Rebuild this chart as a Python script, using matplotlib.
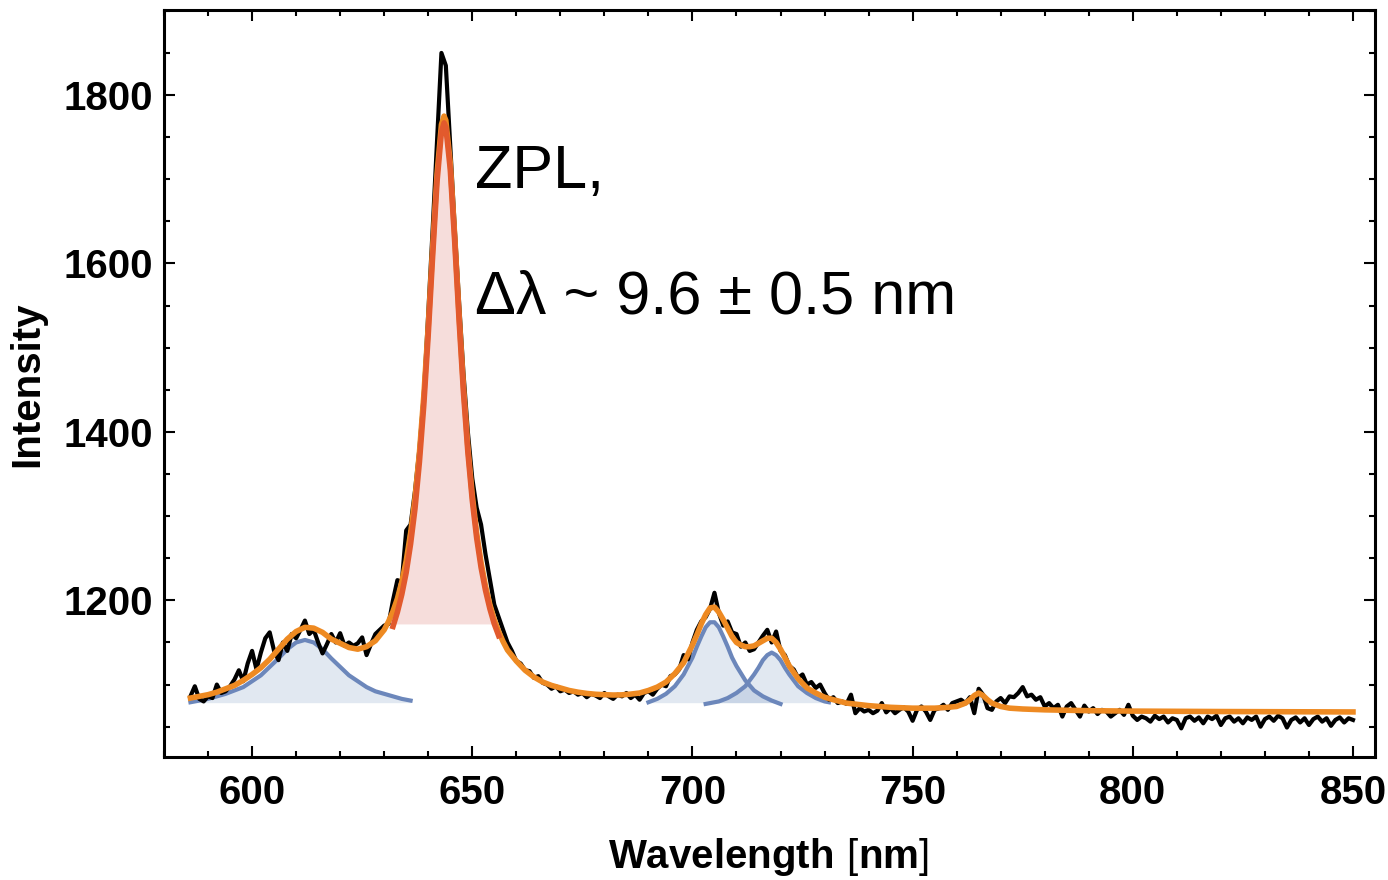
import numpy as np
import matplotlib
matplotlib.use("Agg")
import matplotlib.pyplot as plt
from matplotlib.ticker import MultipleLocator

plt.rcParams['font.family'] = ['Liberation Sans', 'DejaVu Sans']
plt.rcParams['mathtext.fontset'] = 'custom'
plt.rcParams['mathtext.rm'] = 'Liberation Sans'
plt.rcParams['mathtext.bf'] = 'Liberation Sans:bold'

# ---------------- data ----------------
# measured spectrum, 1 nm steps from 586 nm to 850 nm
spectrum = [
    1086, 1098, 1083, 1080, 1086, 1084, 1100, 1090, 1092, 1098,   # 586-595
    1106, 1117, 1104, 1125, 1140, 1118, 1138, 1155, 1162, 1140,   # 596-605
    1129, 1150, 1140, 1160, 1155, 1165, 1176, 1160, 1165, 1150,   # 606-615
    1137, 1148, 1160, 1150, 1161, 1146, 1150, 1146, 1149, 1156,   # 616-625
    1135, 1148, 1160, 1165, 1170, 1172, 1200, 1224, 1222, 1283,   # 626-635
    1290, 1330, 1380, 1445, 1540, 1640, 1745, 1850, 1835, 1740,   # 636-645
    1645, 1555, 1470, 1400, 1345, 1310, 1290, 1255, 1225, 1195,   # 646-655
    1180, 1165, 1150, 1140, 1128, 1125, 1117, 1116, 1108, 1110,   # 656-665
    1102, 1100, 1095, 1098, 1092, 1094, 1090, 1092, 1088, 1090,   # 666-675
    1085, 1089, 1087, 1084, 1090, 1086, 1083, 1088, 1086, 1090,   # 676-685
    1084, 1088, 1082, 1090, 1092, 1088, 1095, 1100, 1098, 1110,   # 686-695
    1112, 1118, 1135, 1130, 1150, 1165, 1175, 1180, 1190, 1209,   # 696-705
    1185, 1170, 1175, 1162, 1160, 1145, 1150, 1140, 1142, 1150,   # 706-715
    1158, 1165, 1150, 1163, 1140, 1135, 1122, 1118, 1108, 1112,   # 716-725
    1100, 1103, 1096, 1100, 1090, 1082, 1085, 1078, 1080, 1077,   # 726-735
    1088, 1066, 1072, 1068, 1070, 1066, 1069, 1078, 1067, 1072,   # 736-745
    1066, 1070, 1073, 1068, 1057, 1070, 1074, 1068, 1058, 1070,   # 746-755
    1072, 1076, 1070, 1078, 1080, 1082, 1078, 1085, 1066, 1095,   # 756-765
    1088, 1072, 1070, 1080, 1084, 1078, 1086, 1085, 1090, 1097,   # 766-775
    1086, 1088, 1082, 1085, 1074, 1078, 1072, 1076, 1062, 1074,   # 776-785
    1078, 1070, 1062, 1075, 1068, 1072, 1065, 1070, 1068, 1062,   # 786-795
    1066, 1070, 1064, 1076, 1063, 1058, 1062, 1060, 1056, 1063,   # 796-805
    1059, 1062, 1055, 1060, 1058, 1048, 1060, 1062, 1057, 1061,   # 806-815
    1054, 1062, 1059, 1063, 1052, 1060, 1062, 1056, 1060, 1054,   # 816-825
    1061, 1058, 1062, 1050, 1059, 1062, 1057, 1063, 1060, 1049,   # 826-835
    1058, 1061, 1055, 1060, 1052, 1059, 1062, 1056, 1060, 1051,   # 836-845
    1058, 1061, 1055, 1060, 1058,                                 # 846-850
]
spectrum_wl = np.arange(586, 586 + len(spectrum))

# total fit (orange)
fit_wl = [586, 588, 590, 592, 594, 596, 598, 600, 602, 604, 606, 608, 610, 612,
          614, 616, 618, 620, 622, 624, 626, 628, 630, 631, 632, 633, 634, 635,
          636, 637, 638, 639, 640, 641, 642, 643, 643.6, 644, 645, 646, 647,
          648, 649, 650, 651, 652, 653, 654, 655, 656, 657, 658, 660, 662, 664,
          666, 668, 670, 672, 674, 676, 678, 680, 682, 684, 686, 688, 690, 692,
          694, 696, 698, 700, 701, 702, 703, 704, 705, 706, 707, 708, 709, 710,
          711, 712, 713, 714, 715, 716, 717, 718, 719, 720, 721, 722, 724, 726,
          728, 730, 732, 735, 740, 745, 750, 755, 758, 760, 762, 763, 764, 765,
          766, 767, 768, 770, 772, 775, 780, 790, 800, 820, 850]
fit_int = [1084, 1086, 1088, 1091, 1095, 1099, 1105, 1112, 1120, 1130, 1142,
           1154, 1163, 1168, 1167, 1162, 1154, 1149, 1144, 1142, 1145, 1152,
           1165, 1175, 1187, 1202, 1222, 1247, 1280, 1321, 1375, 1443, 1525,
           1618, 1706, 1765, 1775, 1770, 1720, 1634, 1540, 1454, 1382, 1325,
           1280, 1245, 1217, 1195, 1177, 1163, 1151, 1141, 1128, 1117, 1109,
           1103, 1099, 1096, 1093, 1091, 1089.5, 1088.5, 1088, 1087.6, 1087.8,
           1088.7, 1090, 1093, 1097, 1103, 1113, 1126, 1147, 1159, 1172, 1183,
           1191, 1192, 1186, 1177, 1167, 1157, 1150, 1147, 1145, 1145, 1146,
           1149, 1152, 1155, 1155, 1150, 1142, 1132, 1122, 1107, 1096, 1090,
           1085, 1082, 1078, 1075, 1073, 1072, 1072, 1073, 1074, 1078, 1082,
           1087, 1090, 1087, 1082, 1078, 1074, 1072, 1071, 1070, 1069, 1068.5,
           1068, 1067.5]

# zero-phonon-line component (red)
zpl_wl = [632, 633, 634, 635, 636, 637, 638, 639, 640, 641, 642, 643, 643.6,
          644, 645, 646, 647, 648, 649, 650, 651, 652, 653, 654, 655, 656]
zpl_int = [1169, 1186, 1207, 1233, 1267, 1309, 1364, 1432, 1515, 1608, 1697,
           1756, 1767, 1762, 1712, 1627, 1533, 1447, 1376, 1319, 1274, 1239,
           1212, 1190, 1172, 1158]
zpl_base = 1172

# phonon side-band components (blue)
sb1_wl = [586, 590, 594, 598, 600, 602, 604, 606, 608, 610, 612, 614, 616, 618,
          620, 622, 624, 626, 628, 630, 632, 634, 636]
sb1_int = [1079, 1083, 1089, 1097, 1104, 1111, 1121, 1131, 1142, 1150, 1153,
           1150, 1142, 1131, 1121, 1111, 1104, 1097, 1092, 1089, 1086, 1083, 1081]
sb2_wl = [690, 692, 694, 696, 698, 700, 701, 702, 703, 704, 705, 706, 707, 708,
          709, 710, 712, 714, 716, 718, 720]
sb2_int = [1079, 1083, 1089, 1098, 1112, 1132, 1145, 1157, 1168, 1174, 1174,
           1168, 1157, 1145, 1132, 1122, 1105, 1093, 1086, 1081, 1077]
sb3_wl = [703, 704, 706, 708, 710, 712, 714, 715, 716, 717, 718, 719, 720, 721,
          722, 724, 726, 728, 730, 731]
sb3_int = [1077, 1078, 1080, 1084, 1090, 1098, 1112, 1120, 1129, 1135, 1138,
           1135, 1129, 1120, 1112, 1098, 1090, 1084, 1080, 1079]
sb4_wl = [755, 758, 760, 762, 763, 764, 765, 766, 767, 768, 770, 772, 775]
sb4_int = [1071, 1072, 1074, 1077, 1081, 1085, 1089, 1085, 1081, 1077, 1074,
           1072, 1071]
sb_base = 1078.5

x_major = [600, 650, 700, 750, 800, 850]
y_major = [1200, 1400, 1600, 1800]
x_limits = (580, 855)
y_limits = (1014, 1901)

annotation_1 = "ZPL,"
annotation_2 = "Δλ ~ 9.6 ± 0.5 nm"
x_title = r"$\mathbf{Wavelength}\ [\mathbf{nm}]$"
y_title = "Intensity"

# ---------------- styling ----------------
BLACK = "#000000"
ORANGE = "#EE8A22"
RED = "#E25A2D"
RED_FILL = "#F6DDDB"
BLUE = "#6C87BB"
BLUE_FILL = "#5E81B5"

fig = plt.figure(figsize=(13.88, 8.80), dpi=100)
ax = fig.add_axes([164 / 1388, (880 - 757) / 880, (1375 - 164) / 1388, (757 - 10) / 880])

# blue components
for wl, val in [(sb1_wl, sb1_int), (sb2_wl, sb2_int), (sb3_wl, sb3_int), (sb4_wl, sb4_int)]:
    wl = np.asarray(wl, float)
    val = np.asarray(val, float)
    ax.fill_between(wl, val, sb_base, where=val >= sb_base, interpolate=True,
                    color=BLUE_FILL, alpha=0.18, linewidth=0, zorder=1)
for wl, val in [(sb1_wl, sb1_int), (sb2_wl, sb2_int), (sb3_wl, sb3_int)]:
    ax.plot(wl, val, color=BLUE, lw=3.0, zorder=2)
ax.plot(sb4_wl, sb4_int, color="#B9B3D6", lw=2.6, zorder=2)

# ZPL fill
zw = np.asarray(zpl_wl, float)
zv = np.asarray(zpl_int, float)
ax.fill_between(zw, zv, zpl_base, where=zv >= zpl_base, interpolate=True,
                color=RED_FILL, linewidth=0, zorder=1.5)

# measured spectrum
ax.plot(spectrum_wl, spectrum, color=BLACK, lw=3.0, zorder=3)

# fit
ax.plot(fit_wl, fit_int, color=ORANGE, lw=4.0, zorder=4)
ax.plot(zpl_wl, zpl_int, color=RED, lw=4.0, zorder=5)

# annotations
ax.text(650.6, 1690, annotation_1, fontsize=44, color="black", va="baseline", ha="left", zorder=6)
ax.text(650.6, 1541, annotation_2, fontsize=44, color="black", va="baseline", ha="left", zorder=6)

# axes formatting
ax.set_xlim(*x_limits)
ax.set_ylim(*y_limits)
ax.set_xticks(x_major)
ax.set_yticks(y_major)
ax.xaxis.set_minor_locator(MultipleLocator(10))
ax.yaxis.set_minor_locator(MultipleLocator(50))
ax.tick_params(which="both", direction="in", top=True, right=True, width=1.5,
               labelsize=29, colors="black")
ax.tick_params(which="major", length=8)
ax.tick_params(which="minor", length=4.5)
ax.tick_params(axis="x", which="major", pad=12)
ax.tick_params(axis="y", which="major", pad=8)
for lab in ax.get_xticklabels() + ax.get_yticklabels():
    lab.set_fontweight("bold")
for sp in ax.spines.values():
    sp.set_linewidth(2.2)

fig.text(768 / 1388, 1 - 857 / 880, x_title, fontsize=29,
         ha="center", va="center")
fig.text(27 / 1388, 1 - 384 / 880, y_title, fontsize=29, fontweight="bold",
         ha="center", va="center", rotation=90)

fig.savefig("out.png", dpi=100)
